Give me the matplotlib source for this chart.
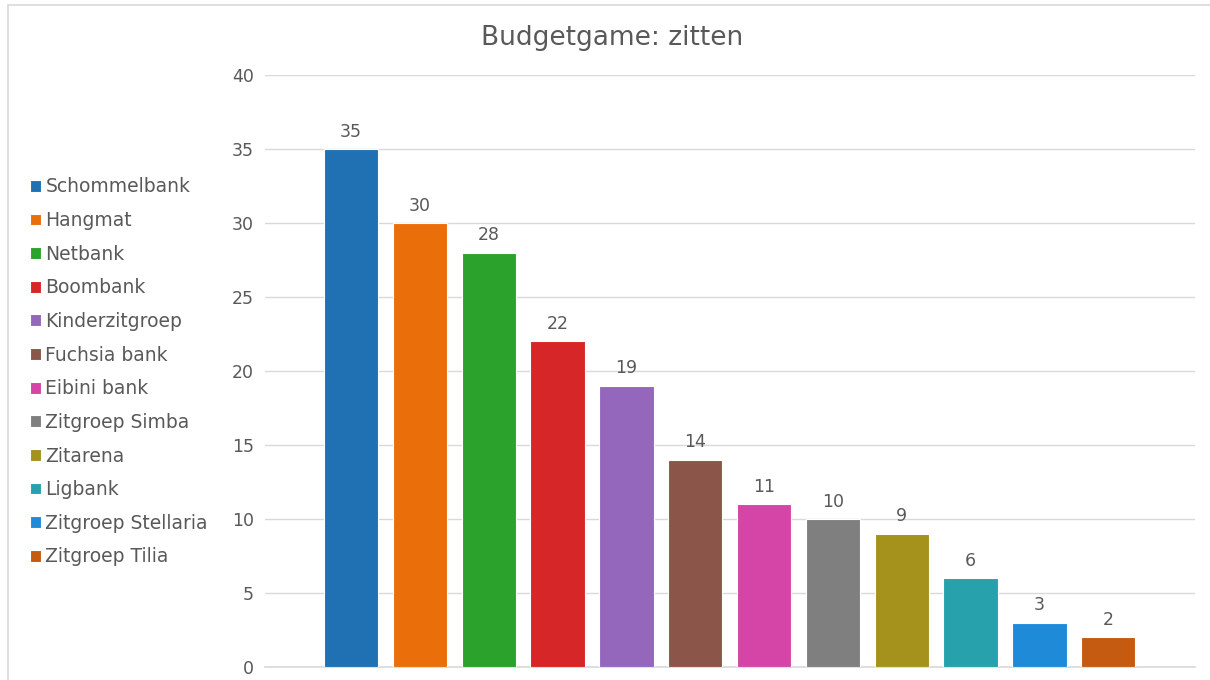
import matplotlib
matplotlib.use('Agg')
import matplotlib.pyplot as plt
from matplotlib.patches import Rectangle

# data
names = ['Schommelbank', 'Hangmat', 'Netbank', 'Boombank', 'Kinderzitgroep',
         'Fuchsia bank', 'Eibini bank', 'Zitgroep Simba', 'Zitarena', 'Ligbank',
         'Zitgroep Stellaria', 'Zitgroep Tilia']
votes = [35, 30, 28, 22, 19, 14, 11, 10, 9, 6, 3, 2]
colors = ['#1f71b3', '#ea6f0a', '#2ba22c', '#d62628', '#9467bd', '#8b5549',
          '#d545a7', '#7f7f7f', '#a4921c', '#27a1ab', '#1f8bd8', '#c55a11']
yticks = [0, 5, 10, 15, 20, 25, 30, 35, 40]

txt = '#595959'
plt.rcParams['font.family'] = ['DejaVu Sans']

fig = plt.figure(figsize=(12.1, 6.8), dpi=100)
ax = fig.add_axes([265/1210, 13/680, 930/1210, 592/680])

# outer chart frame (right/bottom run off the picture)
fig.patches.append(Rectangle((8/1210, -0.1), 1.2, 1 - 5/680 + 0.1,
                             transform=fig.transFigure, fill=False,
                             edgecolor='#d9d9d9', lw=1.2))

x = list(range(len(names)))
bars = ax.bar(x, votes, width=0.79, color=colors, edgecolor='white',
              linewidth=0.8, label=names, zorder=3)
for xi, v in zip(x, votes):
    ax.annotate(str(v), (xi, v), xytext=(0, 6), textcoords='offset points',
                ha='center', va='bottom', fontsize=12.5, color=txt)

ax.set_xlim(-1.25, 12.26)
ax.set_ylim(0, 40)
ax.set_yticks(yticks)
ax.set_xticks([])
ax.tick_params(axis='y', length=0, labelsize=12.5, labelcolor=txt, pad=8)
ax.grid(axis='y', color='#d9d9d9', lw=1, zorder=0)
ax.axhline(0, color='#d9d9d9', lw=1.2, zorder=1, clip_on=False)
for s in ax.spines.values():
    s.set_visible(False)

fig.text(612/1210, 1 - 38/680, 'Budgetgame: zitten', ha='center', va='center',
         fontsize=19, color=txt)

handles = list(bars)
fig.legend(handles, names, loc='upper left', bbox_to_anchor=(22/1210, 1 - 170/680),
           frameon=False, fontsize=13.5, labelcolor=txt, handlelength=0.6,
           handleheight=0.6, handletextpad=0.25, labelspacing=0.78,
           borderaxespad=0)

fig.savefig('out.png', dpi=100)
